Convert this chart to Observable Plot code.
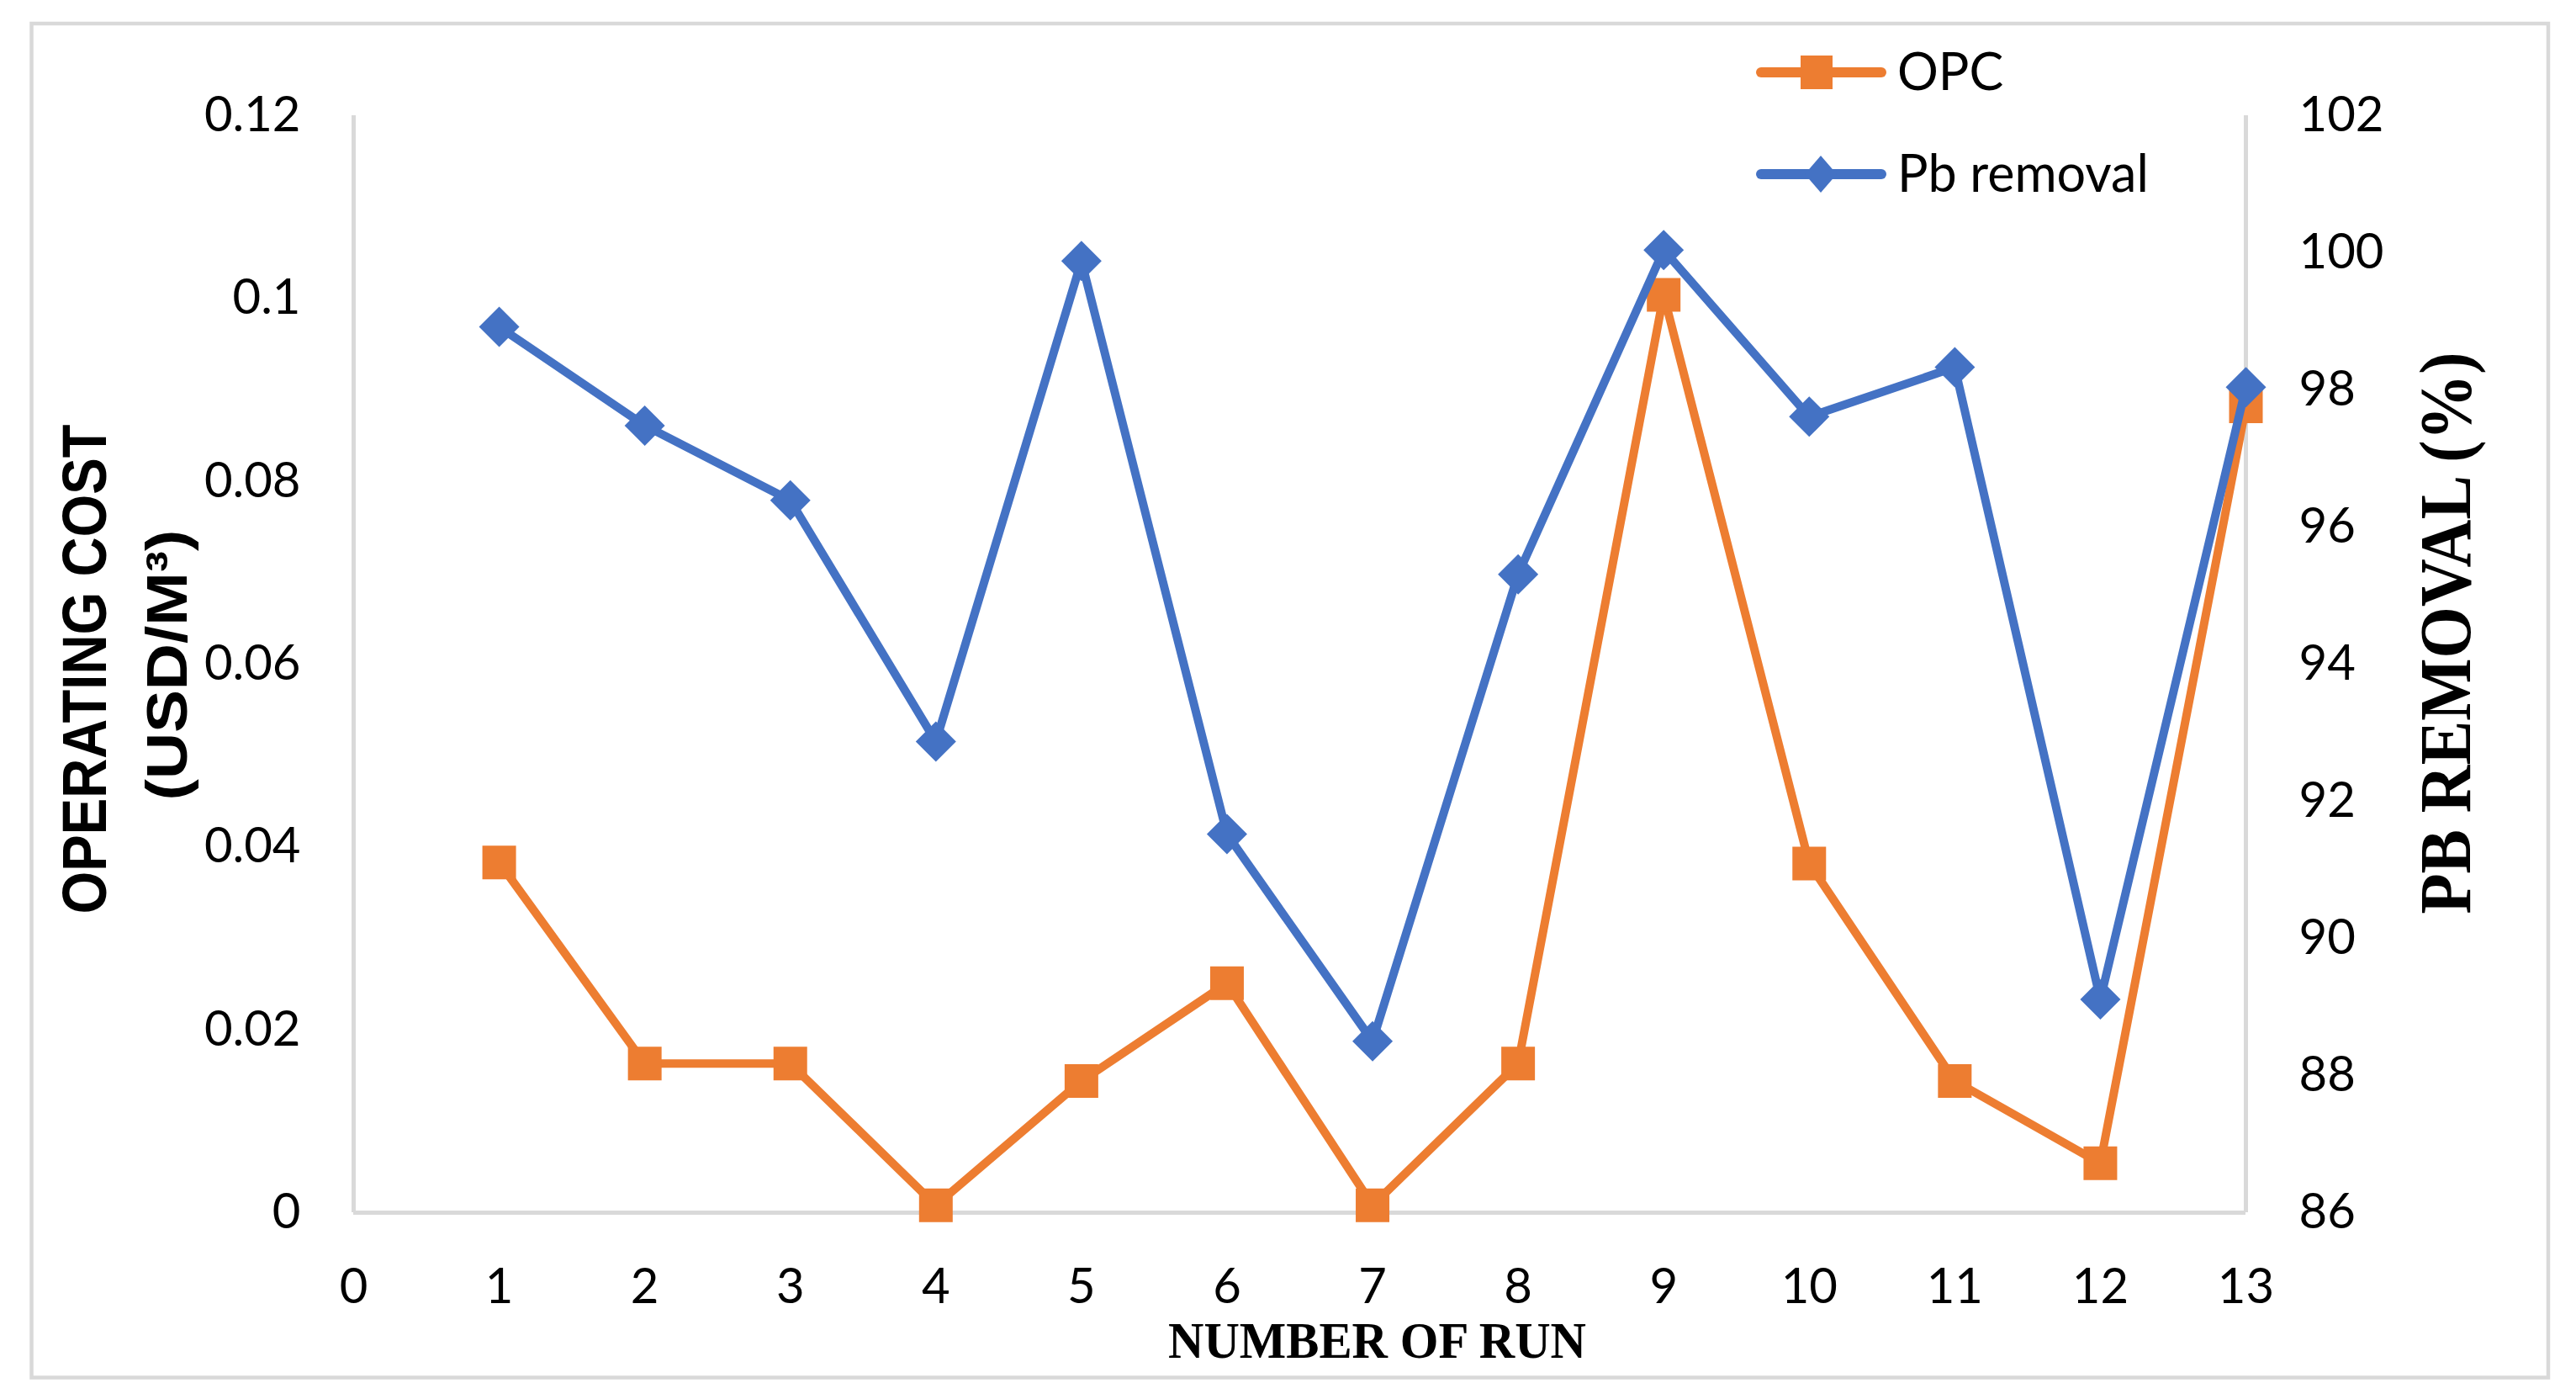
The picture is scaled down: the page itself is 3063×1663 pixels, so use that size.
<!DOCTYPE html>
<html><head><meta charset="utf-8">
<script src="https://cdn.jsdelivr.net/npm/d3@7"></script>
<script src="https://cdn.jsdelivr.net/npm/@observablehq/plot@0.6"></script>
<style>body{margin:0;background:#fff}</style>
</head><body><div id="chart"></div>
<script>
// ---- data ----
const runs = [1, 2, 3, 4, 5, 6, 7, 8, 9, 10, 11, 12, 13];
const opc = [0.0383, 0.0163, 0.0163, 0.0008, 0.0144, 0.0251, 0.0008, 0.0163, 0.1004, 0.0382, 0.0144, 0.0054, 0.0882];
const pbRemoval = [98.92, 97.48, 96.39, 92.87, 99.88, 91.52, 88.50, 95.31, 100.04, 97.61, 98.33, 89.11, 98.04];
const xTicks = [0, 1, 2, 3, 4, 5, 6, 7, 8, 9, 10, 11, 12, 13];
const leftTicks = [0, 0.02, 0.04, 0.06, 0.08, 0.1, 0.12];
const rightTicks = [86, 88, 90, 92, 94, 96, 98, 100, 102];
const seriesNames = ["OPC", "Pb removal"];
const seriesColors = ["#ED7D31", "#4472C4"];
const xTitle = "NUMBER OF RUN";
const yTitle1 = "OPERATING COST";
const yTitle2 = "(USD/M³)";
const y2Title = "PB REMOVAL (%)";

// ---- layout ----
const W = 3063, H = 1663;
const yMax = 0.12, rMin = 86, rMax = 102;
const toLeft = v => (v - rMin) / (rMax - rMin) * yMax;
const fromLeft = y => rMin + y / yMax * (rMax - rMin);

const opcData = runs.map((r, i) => ({run: r, value: opc[i]}));
const pbData = runs.map((r, i) => ({run: r, value: toLeft(pbRemoval[i]), pb: pbRemoval[i]}));

const diamond = {draw(ctx, size) { const r = Math.sqrt(size / Math.PI); ctx.moveTo(0, -r); ctx.lineTo(r, 0); ctx.lineTo(0, r); ctx.lineTo(-r, 0); ctx.closePath(); }};
const square = {draw(ctx, size) { const r = Math.sqrt(size / Math.PI); ctx.rect(-r, -r, 2 * r, 2 * r); }};

const gridColor = "#d9d9d9";

const plot = Plot.plot({
  width: W, height: H,
  marginLeft: 420, marginRight: W - 2670, marginTop: 137, marginBottom: H - 1441,
  x: {domain: [0, 13]},
  y: {domain: [0, yMax]},
  style: {fontFamily: "Lato", fontSize: "58px", color: "#000", background: "#fff", overflow: "visible"},
  marks: [
    Plot.ruleX([0, 13], {stroke: gridColor, strokeWidth: 5}),
    Plot.ruleY([0], {stroke: gridColor, strokeWidth: 5}),
    Plot.axisX({ticks: xTicks, tickSize: 0, tickPadding: 66, fontSize: 58, tickFormat: d => String(d), label: null}),
    Plot.axisY({ticks: leftTicks, tickSize: 0, tickPadding: 63, fontSize: 58, tickFormat: d => String(+d.toFixed(2)), label: null}),
    Plot.axisY({anchor: "right", ticks: rightTicks.map(toLeft), tickSize: 0, tickPadding: 63, fontSize: 58, tickFormat: d => String(Math.round(fromLeft(d))), label: null}),
    Plot.line(opcData, {x: "run", y: "value", stroke: seriesColors[0], strokeWidth: 10}),
    Plot.dot(opcData, {x: "run", y: "value", symbol: square, r: 20, fill: seriesColors[0], stroke: "none"}),
    Plot.line(pbData, {x: "run", y: "value", stroke: seriesColors[1], strokeWidth: 10}),
    Plot.dot(pbData, {x: "run", y: "value", symbol: diamond, r: 24, fill: seriesColors[1], stroke: "none"}),
    Plot.text([xTitle], {text: d => d, frameAnchor: "bottom", textAnchor: "middle", dx: 92, dy: 153, lineAnchor: "middle",
      fontFamily: "Liberation Serif", fontWeight: "bold", fontSize: 62, fill: "#000"}),
    Plot.text([yTitle1], {text: d => d, frameAnchor: "left", textAnchor: "middle", rotate: -90, dx: -318, dy: 6, lineAnchor: "middle",
      fontFamily: "Liberation Sans", fontWeight: "bold", fontSize: 74, fill: "#000"}),
    Plot.text([yTitle2], {text: d => d, frameAnchor: "left", textAnchor: "middle", rotate: -90, dx: -220, dy: 1, lineAnchor: "middle",
      fontFamily: "Liberation Sans", fontWeight: "bold", fontSize: 68, fill: "#000"}),
    Plot.text([y2Title], {text: d => d, frameAnchor: "right", textAnchor: "middle", rotate: -90, dx: 239, dy: -37, lineAnchor: "middle",
      fontFamily: "Liberation Serif", fontWeight: "bold", fontSize: 86, fill: "#000"})
  ]
});

document.getElementById("chart").appendChild(plot);
const svg = d3.select(plot);

// fit title lengths
const fits = {[xTitle]: 497, [yTitle1]: 582, [yTitle2]: 322, [y2Title]: 668};
svg.selectAll("text").each(function() {
  const t = this.textContent;
  if (fits[t]) d3.select(this).attr("textLength", fits[t]).attr("lengthAdjust", "spacingAndGlyphs");
});

// outer frame
svg.insert("rect", ":first-child")
  .attr("x", 37.5).attr("y", 28).attr("width", 2992.5).attr("height", 1609.5)
  .attr("fill", "#fff").attr("stroke", gridColor).attr("stroke-width", 4.5);

// legend
const legendRows = [86, 207];
const lg = svg.append("g").attr("text-anchor", "start");
seriesNames.forEach((name, i) => {
  const y = legendRows[i];
  lg.append("line").attr("x1", 2094).attr("x2", 2237).attr("y1", y).attr("y2", y)
    .attr("stroke", seriesColors[i]).attr("stroke-width", 12).attr("stroke-linecap", "round");
  if (i === 0) {
    lg.append("rect").attr("x", 2141).attr("y", y - 20).attr("width", 38).attr("height", 40).attr("fill", seriesColors[i]);
  } else {
    lg.append("path").attr("d", `M2165,${y - 22}L2184,${y}L2165,${y + 22}L2146,${y}Z`).attr("fill", seriesColors[i]);
  }
  lg.append("text").attr("x", 2256).attr("y", y).attr("dy", "0.35em").attr("text-anchor", "start")
    .attr("font-family", "Lato").attr("font-size", 61).attr("fill", "#000").text(name);
});
</script>
</body></html>
